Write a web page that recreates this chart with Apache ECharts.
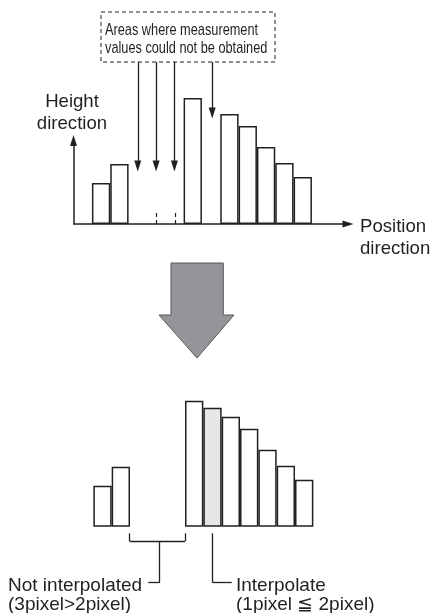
<!DOCTYPE html>
<html>
<head>
<meta charset="utf-8">
<script src="https://cdn.jsdelivr.net/npm/echarts@6/dist/echarts.min.js"></script>
<style>
  html, body { margin: 0; padding: 0; background: #fff; }
  #chart { width: 432px; height: 613px; }
</style>
</head>
<body>
<div id="chart"></div>
<script>
// pixel slots along the position direction
const slots = [0, 1, 2, 3, 4, 5, 6, 7, 8, 9, 10, 11]
// measured heights, null = could not be obtained
const measured = [41, 60, null, null, null, 126, null, 110, 98, 77, 61, 47]
// value filled in by interpolation (1 missing pixel)
const interpolated = [null, null, null, null, null, null, 119, null, null, null, null, null]
// slots the annotation arrows point at
const missingSlots = [2, 3, 4]
const missingSingle = 6

const INK = '#231f20'
const FONT = '"Liberation Sans", Arial, sans-serif'

// same x scale for both charts
const xMin = -1.555
const xMax = 13.39

function barData (withInterp) {
  const out = []
  slots.forEach(function (s, i) {
    if (measured[i] != null) {
      out.push({ value: [s, measured[i]] })
    } else if (withInterp && interpolated[i] != null) {
      out.push({ value: [s, interpolated[i]], itemStyle: { color: '#e6e7e8' } })
    }
  })
  return out
}

function seg (a, b) {
  return [{ coord: a }, { coord: b }]
}

const barStyle = { color: '#fff', borderColor: INK, borderWidth: 1.5 }

const chart = echarts.init(document.getElementById('chart'))

const option = {
  animation: false,
  backgroundColor: '#fff',
  grid: [
    // top chart (before)
    { left: 74, top: 62, width: 274, height: 162 },
    // bottom chart (after)
    { left: 74, top: 386.7, width: 274, height: 220 },
    // height direction axis
    { left: 73.5, top: 140.5, width: 10, height: 83.5 }
  ],
  xAxis: [
    {
      gridIndex: 0, type: 'value', min: xMin, max: xMax,
      axisLine: { show: true, onZero: false, lineStyle: { color: INK, width: 1.5 }, symbol: ['none', 'triangle'], symbolSize: [7, 11] },
      axisTick: { show: false }, axisLabel: { show: false }, splitLine: { show: false }
    },
    { gridIndex: 1, type: 'value', min: xMin, max: xMax, show: false, splitLine: { show: false } },
    { gridIndex: 2, type: 'value', min: 0, max: 1, show: false, splitLine: { show: false } }
  ],
  yAxis: [
    { gridIndex: 0, type: 'value', min: 0, max: 162, show: false, splitLine: { show: false } },
    { gridIndex: 1, type: 'value', min: -80, max: 140, show: false, splitLine: { show: false } },
    {
      gridIndex: 2, type: 'value', min: 0, max: 1,
      axisLine: { show: true, lineStyle: { color: INK, width: 1.5 }, symbol: ['none', 'triangle'], symbolSize: [7, 11] },
      axisTick: { show: false }, axisLabel: { show: false }, splitLine: { show: false }
    }
  ],
  series: [
    {
      type: 'bar',
      xAxisIndex: 0,
      yAxisIndex: 0,
      barWidth: 18.33,
      itemStyle: barStyle,
      data: barData(false),
      markLine: {
        silent: true,
        symbol: ['none', 'triangle'],
        symbolSize: [7, 11],
        label: { show: false },
        lineStyle: { color: INK, width: 1.3, type: 'solid' },
        data: missingSlots.map(function (s) { return seg([s, 162], [s, 58]) })
          .concat([seg([missingSingle + 0.06, 162], [missingSingle + 0.06, 111])])
      }
    },
    {
      // small dashed marks on the baseline where values are missing
      type: 'bar',
      xAxisIndex: 0,
      yAxisIndex: 0,
      data: [],
      markLine: {
        silent: true,
        symbol: ['none', 'none'],
        label: { show: false },
        lineStyle: { color: INK, width: 1.2, type: [4, 3] },
        data: [seg([2.4, 0], [2.4, 11]), seg([3.4, 0], [3.4, 11])]
      }
    },
    {
      type: 'bar',
      xAxisIndex: 1,
      yAxisIndex: 1,
      barWidth: 18.33,
      itemStyle: barStyle,
      data: barData(true),
      markLine: {
        silent: true,
        symbol: ['none', 'none'],
        label: { show: false },
        lineStyle: { color: INK, width: 1.3, type: 'solid' },
        data: [
          // bracket under the 3 pixel gap
          seg([1.48, -6.6], [1.48, -14.5]),
          seg([1.48, -14.5], [4.5, -14.5]),
          seg([4.5, -14.5], [4.5, -6.6]),
          seg([3.12, -14.5], [3.12, -56]),
          seg([3.12, -56], [2.5, -56]),
          // leader to the interpolated pixel
          seg([6, -6.6], [6, -56]),
          seg([6, -56], [7.05, -56])
        ]
      }
    },
    {
      type: 'line',
      xAxisIndex: 2,
      yAxisIndex: 2,
      data: []
    }
  ],
  graphic: [
    {
      type: 'rect',
      shape: { x: 101, y: 12, width: 174, height: 50 },
      style: { fill: 'none', stroke: INK, lineWidth: 1, lineDash: [4, 3] }
    },
    {
      // narrow lettering: squeeze the regular face horizontally
      type: 'text',
      x: 105, y: 39.5,
      scaleX: 0.75,
      style: { text: 'Areas where measurement\nvalues could not be obtained', font: '17px ' + FONT, lineHeight: 18.5, fill: INK, align: 'left', verticalAlign: 'middle' }
    },
    {
      type: 'text',
      x: 72, y: 113,
      style: { text: 'Height\ndirection', font: '18.6px ' + FONT, lineHeight: 22, fill: INK, align: 'center', verticalAlign: 'middle' }
    },
    {
      type: 'text',
      x: 360, y: 238,
      style: { text: 'Position\ndirection', font: '18.6px ' + FONT, lineHeight: 22, fill: INK, align: 'left', verticalAlign: 'middle' }
    },
    {
      // big gray arrow
      type: 'polygon',
      shape: { points: [[171, 263], [223.3, 263], [223.3, 315], [234, 315], [197, 358], [159, 315], [171, 315]] },
      style: { fill: '#939598', stroke: '#58595b', lineWidth: 1 }
    },
    {
      type: 'text',
      x: 8, y: 595.5,
      style: { text: 'Not interpolated\n(3pixel>2pixel)', font: '19px ' + FONT, lineHeight: 19.5, fill: INK, align: 'left', verticalAlign: 'middle' }
    },
    {
      type: 'text',
      x: 236, y: 595.5,
      style: { text: 'Interpolate\n(1pixel \u2266 2pixel)', font: '19px ' + FONT, lineHeight: 19.5, fill: INK, align: 'left', verticalAlign: 'middle' }
    }
  ]
}

chart.setOption(option)
</script>
</body>
</html>
